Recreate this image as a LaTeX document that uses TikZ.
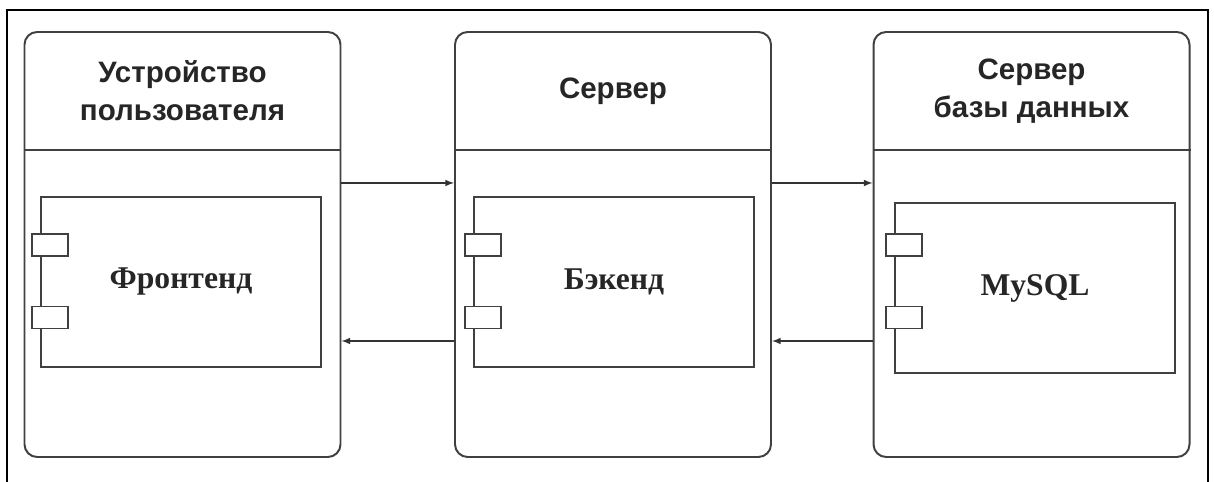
\documentclass[tikz,border=0pt]{standalone}
\usepackage{fontspec}
\setmainfont{Liberation Serif}
\setsansfont{Liberation Sans}
\usepackage{tikz}

\begin{document}
\begin{tikzpicture}[
        line width=1.4pt, draw=black!75,
        hostbox/.style={draw=black!75, rounded corners=9pt, minimum width=7.9cm, minimum height=10.625cm},
        title/.style={align=center, font=\sffamily\bfseries\fontsize{21}{27}\selectfont, text=black!85},
        comp/.style={draw=black!75, minimum width=7cm, minimum height=4.25cm, font=\bfseries\fontsize{22.5}{26}\selectfont, text=black!85},
        port/.style={draw=black!75, fill=white, minimum width=0.9cm, minimum height=0.55cm, inner sep=0pt},
        link/.style={-latex, line width=1.1pt, draw=black!80}
    ]
        \useasboundingbox (0,0) rectangle (30.35,12.05);
        \draw[black, line width=1.2pt] (0.175,0) -- (0.175,11.8) -- (30.2,11.8) -- (30.2,0);

        % hosts
        \node[hostbox] (dev) at (4.5625,5.9375) {};
        \node[hostbox] (srv) at (15.325,5.9375) {};
        \node[hostbox] (db) at (25.7875,5.9375) {};

        \draw (dev.west |- 0,8.3) -- (dev.east |- 0,8.3);
        \draw (srv.west |- 0,8.3) -- (srv.east |- 0,8.3);
        \draw (db.west |- 0,8.3) -- (db.east |- 0,8.3);

        \node[title] (devtitle) at (dev.north |- 0,9.775) {Устройство\\пользователя};
        \node[title] (srvtitle) at (srv.north |- 0,9.775) {Сервер};
        \node[title] (dbtitle) at (db.north |- 0,9.775) {Сервер\\базы данных};

        % components
        \node[comp] (front) at (4.525,5.0) {Фронтенд};
        \node[comp] (back) at (15.35,5.0) {Бэкенд};
        \node[comp] (mysql) at (25.875,4.85) {MySQL};

        \node[port, xshift=0.25cm] (frontp1) at (front.west |- 0,5.925) {};
        \node[port, xshift=0.25cm] (frontp2) at (front.west |- 0,4.1125) {};
        \node[port, xshift=0.25cm] (backp1) at (back.west |- 0,5.925) {};
        \node[port, xshift=0.25cm] (backp2) at (back.west |- 0,4.1125) {};
        \node[port, xshift=0.25cm] (mysqlp1) at (mysql.west |- 0,5.925) {};
        \node[port, xshift=0.25cm] (mysqlp2) at (mysql.west |- 0,4.1125) {};

        % links
        \draw[link] (dev.east |- 0,7.475) -- (srv.west |- 0,7.475);
        \draw[link] (srv.west |- 0,3.525) -- (dev.east |- 0,3.525);
        \draw[link] (srv.east |- 0,7.475) -- (db.west |- 0,7.475);
        \draw[link] (db.west |- 0,3.525) -- (srv.east |- 0,3.525);
    \end{tikzpicture}
\end{document}
